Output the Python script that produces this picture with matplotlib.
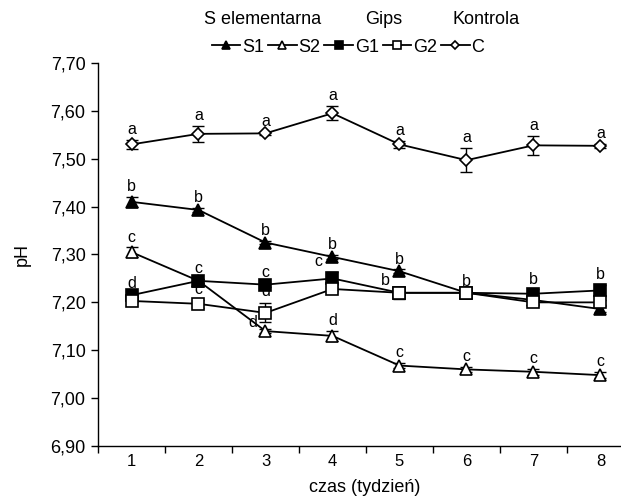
import matplotlib
matplotlib.use("Agg")
import matplotlib.pyplot as plt
from matplotlib.ticker import FixedLocator

plt.rcParams['font.family'] = ['Liberation Sans', 'DejaVu Sans']

weeks = [1, 2, 3, 4, 5, 6, 7, 8]
week_labels = ['1', '2', '3', '4', '5', '6', '7', '8']

s1 = [7.410, 7.393, 7.325, 7.295, 7.265, 7.220, 7.205, 7.186]
s1_err = [0.010, 0.004, 0.004, 0.004, 0.004, 0.003, 0.004, 0.006]
s2 = [7.305, 7.245, 7.140, 7.130, 7.068, 7.060, 7.055, 7.048]
s2_err = [0.010, 0.004, 0.005, 0.010, 0.006, 0.006, 0.006, 0.007]
g1 = [7.215, 7.245, 7.237, 7.250, 7.220, 7.220, 7.218, 7.225]
g1_err = [0.004, 0.004, 0.004, 0.014, 0.004, 0.003, 0.009, 0.012]
g2 = [7.203, 7.197, 7.178, 7.228, 7.220, 7.220, 7.200, 7.200]
g2_err = [0.003, 0.008, 0.020, 0.004, 0.012, 0.003, 0.004, 0.006]
c = [7.530, 7.552, 7.553, 7.595, 7.530, 7.497, 7.528, 7.527]
c_err = [0.010, 0.016, 0.003, 0.015, 0.007, 0.025, 0.020, 0.004]

# letters of significance (empty = none)
c_let = ['a', 'a', 'a', 'a', 'a', 'a', 'a', 'a']
s1_let = ['b', 'b', 'b', 'b', 'b', '', '', '']
s2_let = ['c', '', 'd', 'd', 'c', 'c', 'c', 'c']
g1_let = ['d', 'c', 'c', 'c', 'b', 'b', 'b', 'b']
g2_let = ['', 'c', 'd', '', '', '', '', '']

fig = plt.figure(figsize=(6.21, 5.01), dpi=100)
ax = fig.add_axes([98 / 621, 55 / 501, 536 / 621, 383 / 501])

series = [
    ('S1', s1, s1_err, '^', 'black', 8),
    ('S2', s2, s2_err, '^', 'white', 8),
    ('G1', g1, g1_err, 's', 'black', 8),
    ('G2', g2, g2_err, 's', 'white', 8),
    ('C', c, c_err, 'D', 'white', 6),
]
handles = []
for name, vals, err, mk, fc, ms in series:
    ax.errorbar(weeks, vals, yerr=err, fmt='none', ecolor='black',
                elinewidth=1.0, capsize=4, capthick=1.0, zorder=2)
    h, = ax.plot(weeks, vals, color='black', lw=1.3, marker=mk, ms=ms,
                 mfc=fc, mec='black', mew=1.2, label=name, zorder=3)
    handles.append(h)

def put_letters(vals, err, letters, shift=None):
    for i, t in enumerate(letters):
        if not t:
            continue
        dx, dy = 0, 2
        if shift and i in shift:
            dx, dy = shift[i]
        ax.annotate(t, (weeks[i], vals[i] + err[i]), xytext=(dx, dy),
                    textcoords='offset points', ha='center', va='bottom',
                    fontsize=11.5, zorder=4)

put_letters(c, c_err, c_let)
put_letters(s1, s1_err, s1_let)
put_letters(g1, g1_err, g1_let, {3: (-10, 2), 4: (-10, 2)})
put_letters(g2, g2_err, g2_let, {2: (0, 3)})
# S2 letters; week 3 sits left of the point
for i, t in enumerate(s2_let):
    if not t:
        continue
    if i == 2:
        ax.annotate(t, (weeks[i], s2[i]), xytext=(-9, 1),
                    textcoords='offset points', ha='center', va='bottom',
                    fontsize=11.5, zorder=4)
    else:
        ax.annotate(t, (weeks[i], s2[i] + s2_err[i]), xytext=(0, 2),
                    textcoords='offset points', ha='center', va='bottom',
                    fontsize=11.5, zorder=4)

ax.set_xlim(0.5, 8.5)
ax.set_ylim(6.90, 7.70)
yt = [6.90 + 0.1 * k for k in range(9)]
ax.set_yticks(yt)
ax.set_yticklabels([('%.2f' % v).replace('.', ',') for v in yt], fontsize=13)
ax.set_xticks(weeks)
ax.set_xticklabels(week_labels, fontsize=12)
ax.xaxis.set_minor_locator(FixedLocator([k + 0.5 for k in range(0, 9)]))
ax.tick_params(axis='x', which='major', length=0, pad=6)
ax.tick_params(axis='x', which='minor', length=5, width=1, direction='out')
ax.tick_params(axis='y', length=5, width=1, direction='out', pad=4)
for s in ['top', 'right']:
    ax.spines[s].set_visible(False)
ax.spines['left'].set_linewidth(1)
ax.spines['bottom'].set_linewidth(1)

fig.text(365 / 621, 1 - 487 / 501, 'czas (tydzień)', fontsize=13,
         ha='center', va='center')
fig.text(22 / 621, 1 - 255 / 501, 'pH', fontsize=13, rotation=90,
         ha='center', va='center')

# legend with group headers
fig.legend(handles=handles, loc='center', bbox_to_anchor=(348 / 621, 1 - 47 / 501),
           ncol=5, frameon=False, fontsize=13, handlelength=1.6,
           handletextpad=0.1, columnspacing=0.2, borderpad=0, markerscale=0.75)
fig.text(263 / 621, 1 - 19 / 501, 'S elementarna', fontsize=13, ha='center', va='center')
fig.text(384 / 621, 1 - 19 / 501, 'Gips', fontsize=13, ha='center', va='center')
fig.text(486 / 621, 1 - 19 / 501, 'Kontrola', fontsize=13, ha='center', va='center')

fig.savefig('out.png', dpi=100)
